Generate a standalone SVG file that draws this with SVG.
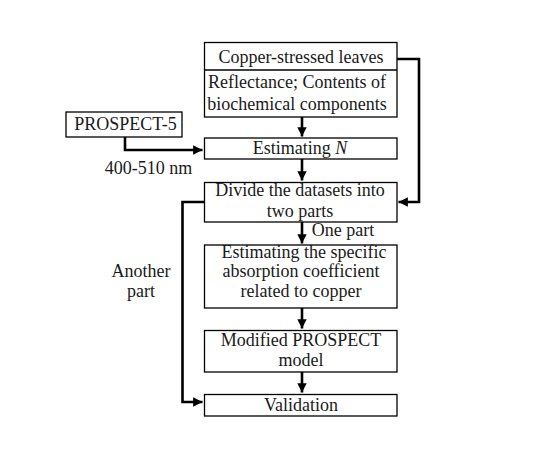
<svg xmlns="http://www.w3.org/2000/svg" width="539" height="472" viewBox="0 0 539 472">
<style>
.box{fill:#fff;stroke:#000;stroke-width:1.3}
.t{font-family:"Liberation Serif","Times New Roman",serif;font-size:18px;fill:#1a1a1a;text-anchor:middle}
.c{fill:none;stroke:#000;stroke-width:2.6}
</style>
<defs>
<marker id="ah" viewBox="0 0 10 10" refX="10" refY="5" markerWidth="4" markerHeight="3.6" orient="auto" markerUnits="strokeWidth">
<path d="M0,0 L10,5 L0,10 Z" fill="#000"/>
</marker>
</defs>
<rect width="539" height="472" fill="#fff"/>
<g id="connectors">
<path class="c" d="M302,117 V136.5" marker-end="url(#ah)"/>
<path class="c" d="M125,137 V150 H202.5" marker-end="url(#ah)"/>
<path class="c" d="M302,159 V180.5" marker-end="url(#ah)"/>
<path class="c" d="M397,59 H419 V202 H398.5" marker-end="url(#ah)"/>
<path class="c" d="M204,202 H182.5 V402 H202.5" marker-end="url(#ah)"/>
<path class="c" d="M302,222 V243.5" marker-end="url(#ah)"/>
<path class="c" d="M302,308 V328.5" marker-end="url(#ah)"/>
<path class="c" d="M302,372 V392.5" marker-end="url(#ah)"/>
</g>
<g id="copper-leaves">
<rect class="box" x="204.5" y="42.5" width="192.5" height="74.5"/>
<line x1="204.5" y1="70" x2="397" y2="70" stroke="#000" stroke-width="1.3"/>
<text class="t" x="301" y="63">Copper-stressed leaves</text>
<text class="t" x="297" y="88">Reflectance; Contents of</text>
<text class="t" x="297" y="110">biochemical components</text>
</g>
<g id="prospect5">
<rect class="box" x="66" y="112" width="116" height="25"/>
<text class="t" x="125.5" y="130">PROSPECT-5</text>
</g>
<g id="label-400">
<text class="t" x="148.5" y="174">400-510 nm</text>
</g>
<g id="estimating-n">
<rect class="box" x="204.5" y="138" width="192.5" height="21"/>
<text class="t" x="300" y="154">Estimating <tspan font-style="italic">N</tspan></text>
</g>
<g id="divide">
<rect class="box" x="204.5" y="182.5" width="192.5" height="39.5"/>
<text class="t" x="300" y="196">Divide the datasets into</text>
<text class="t" x="300" y="217">two parts</text>
</g>
<g id="label-one-part">
<text class="t" x="343" y="236">One part</text>
</g>
<g id="label-another-part">
<text class="t" x="141" y="277">Another</text>
<text class="t" x="141" y="297">part</text>
</g>
<g id="estimating-coef">
<rect class="box" x="204.5" y="245" width="192.5" height="63"/>
<text class="t" x="304" y="258">Estimating the specific</text>
<text class="t" x="301" y="277">absorption coefficient</text>
<text class="t" x="301" y="297">related to copper</text>
</g>
<g id="modified">
<rect class="box" x="204.5" y="330.5" width="192.5" height="41.5"/>
<text class="t" x="301" y="346">Modified PROSPECT</text>
<text class="t" x="301" y="366">model</text>
</g>
<g id="validation">
<rect class="box" x="204.5" y="394.5" width="192.5" height="21.5"/>
<text class="t" x="301" y="411">Validation</text>
</g>
</svg>
